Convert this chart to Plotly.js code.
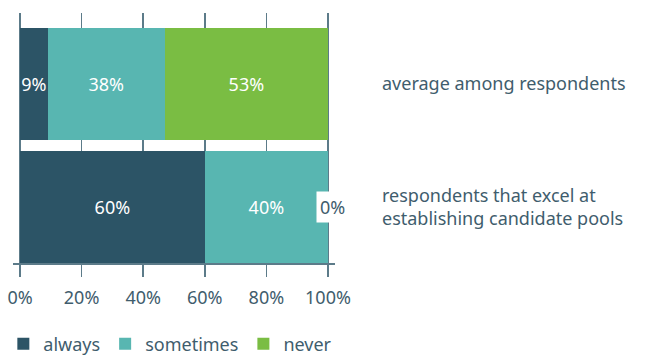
<!DOCTYPE html>
<html>
<head>
<meta charset="utf-8">
<script src="https://cdn.plot.ly/plotly-3.0.1.min.js"></script>
<style>html,body{margin:0;padding:0;background:#fff;}#chart{width:647px;height:358px;}</style>
</head>
<body>
<div id="chart"></div>
<script>
const categories = ["average among respondents", "respondents that excel at<br>establishing candidate pools"];
const seriesNames = ["always", "sometimes", "never"];
const always = [9, 60];
const sometimes = [38, 40];
const never = [53, 0];
const tickValues = [0, 20, 40, 60, 80, 100];
const tickLabels = ["0%", "20%", "40%", "60%", "80%", "100%"];

const colors = ["#2c5466", "#58b6b1", "#7abd43"];
const textColor = "#3f5d6d";
const lineColor = "#5c7b89";
const FONT = "Noto Sans, sans-serif";

const seriesValues = [always, sometimes, never];
const traces = seriesValues.map((vals, i) => ({
  type: "bar",
  orientation: "h",
  name: seriesNames[i],
  y: categories,
  x: vals,
  marker: {color: colors[i], line: {width: 0}},
  text: vals.map(v => v > 0 ? v + "%" : ""),
  textposition: "inside",
  insidetextanchor: "middle",
  textangle: 0,
  constraintext: "none",
  cliponaxis: false,
  textfont: {color: "#ffffff", size: 18, family: FONT},
  hoverinfo: "skip"
}));

// labels for zero-width segments, placed at the segment's position
const annotations = [];
categories.forEach((c, ci) => {
  let cum = 0;
  seriesValues.forEach((vals) => {
    cum += vals[ci];
    if (vals[ci] === 0) {
      annotations.push({
        x: cum, y: c, xref: "x", yref: "y",
        text: vals[ci] + "%", showarrow: false,
        xanchor: "center", xshift: 4,
        bgcolor: "#ffffff", borderpad: 3,
        font: {size: 18, color: textColor, family: FONT}
      });
    }
  });
});

const layout = {
  width: 647, height: 358,
  margin: {l: 13, r: 312, t: 13, b: 95, autoexpand: false},
  paper_bgcolor: "#ffffff", plot_bgcolor: "#ffffff",
  barmode: "stack",
  bargap: 0.089,
  showlegend: true,
  legend: {
    orientation: "h", x: -0.03, xanchor: "left", y: -0.25, yanchor: "top",
    font: {size: 18, color: textColor, family: FONT},
    traceorder: "normal", itemclick: false
  },
  xaxis: {
    range: [-7/3.08, 315/3.08],
    tickvals: tickValues, ticktext: tickLabels,
    showgrid: true, gridcolor: lineColor, gridwidth: 1.5,
    zeroline: false,
    showline: true, linecolor: lineColor, linewidth: 1.5,
    ticks: "outside", ticklen: 12, tickcolor: lineColor, tickwidth: 1.5,
    ticklabelstandoff: 6,
    tickfont: {size: 18, color: textColor, family: FONT},
    automargin: false,
    fixedrange: true
  },
  yaxis: {
    type: "category",
    range: [1.455, -0.577],
    side: "right",
    showgrid: false, zeroline: false, showline: false,
    ticks: "", ticklabelstandoff: 46,
    tickfont: {size: 18, color: textColor, family: FONT},
    automargin: false,
    fixedrange: true
  },
  annotations: annotations
};

Plotly.newPlot("chart", traces, layout, {displayModeBar: false, staticPlot: true});
</script>
</body>
</html>
